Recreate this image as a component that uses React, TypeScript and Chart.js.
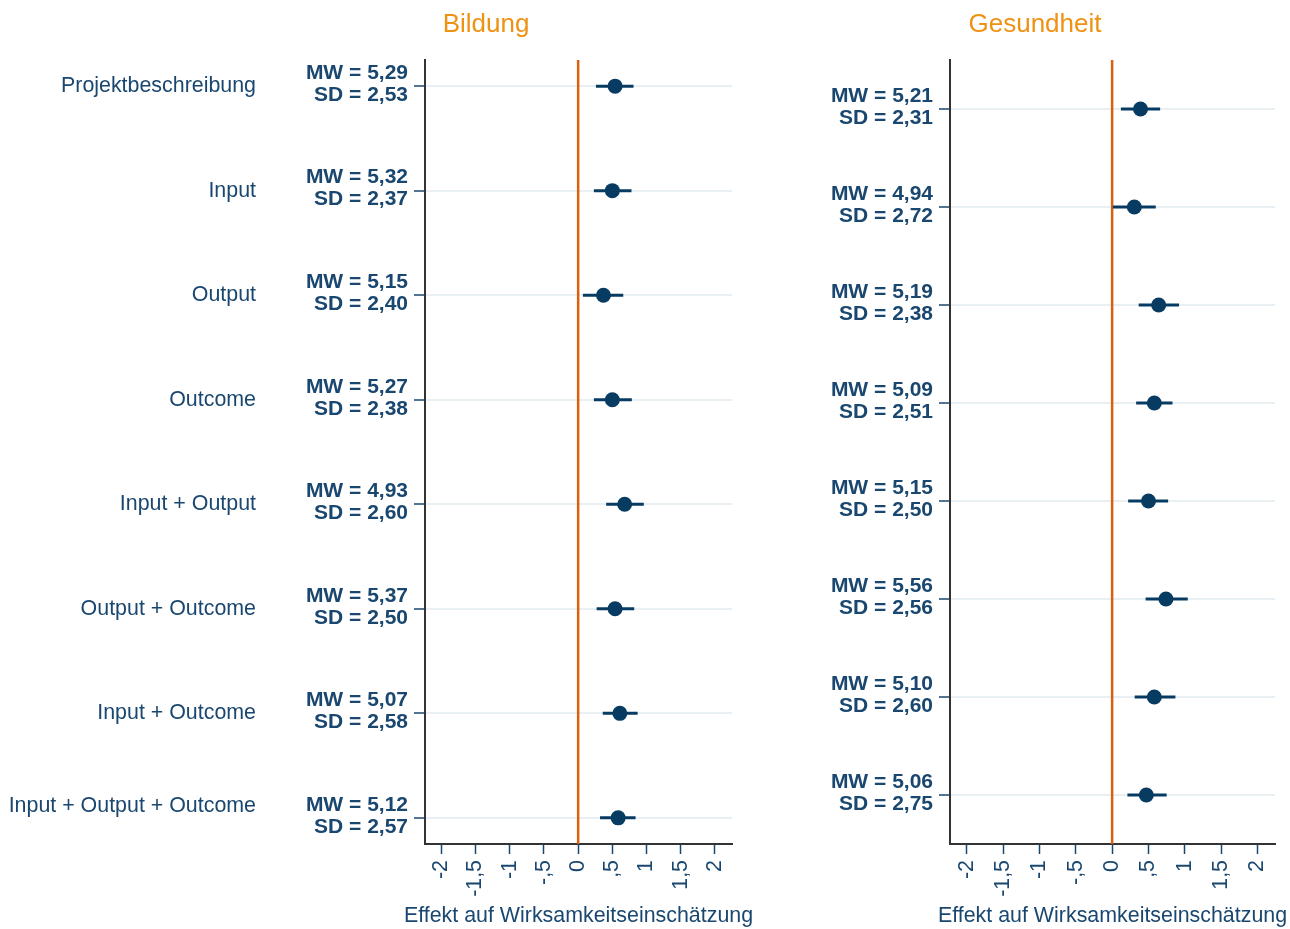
import React, { useEffect, useRef } from "react";
import { Chart, registerables } from "chart.js";

Chart.register(...registerables);

const categories = [
  "Projektbeschreibung",
  "Input",
  "Output",
  "Outcome",
  "Input + Output",
  "Output + Outcome",
  "Input + Outcome",
  "Input + Output + Outcome",
];

const bildungMW = ["5,29", "5,32", "5,15", "5,27", "4,93", "5,37", "5,07", "5,12"];
const bildungSD = ["2,53", "2,37", "2,40", "2,38", "2,60", "2,50", "2,58", "2,57"];
const bildungEst = [0.54, 0.5, 0.37, 0.5, 0.68, 0.54, 0.61, 0.585];
const bildungLo = [0.26, 0.23, 0.07, 0.23, 0.41, 0.27, 0.36, 0.32];
const bildungHi = [0.81, 0.78, 0.66, 0.785, 0.96, 0.82, 0.87, 0.84];

const gesundMW = ["5,21", "4,94", "5,19", "5,09", "5,15", "5,56", "5,10", "5,06"];
const gesundSD = ["2,31", "2,72", "2,38", "2,51", "2,50", "2,56", "2,60", "2,75"];
const gesundEst = [0.39, 0.305, 0.64, 0.58, 0.5, 0.74, 0.58, 0.47];
const gesundLo = [0.12, 0.01, 0.365, 0.33, 0.22, 0.46, 0.31, 0.21];
const gesundHi = [0.66, 0.6, 0.92, 0.83, 0.77, 1.04, 0.87, 0.75];

const xTickValues = [-2, -1.5, -1, -0.5, 0, 0.5, 1, 1.5, 2];
const xTickLabels = ["-2", "-1,5", "-1", "-,5", "0", ",5", "1", "1,5", "2"];
const xAxisTitle = "Effekt auf Wirksamkeitseinschätzung";

const FONT = "'Liberation Sans', Arial, Helvetica, sans-serif";
const NAVY = "#1a476f";
const MARK = "#073b62";
const ORANGE_TITLE = "#ef9112";
const ORANGE_LINE = "#d9600f";
const GRID = "#e8f0f3";
const AXIS = "#333333";
const LAST_LABEL_SHIFT = 0.11;

const panelTextPlugin = {
  id: "panelText",
  afterDraw(chart: any, _args: any, opts: any) {
    const ctx = chart.ctx;
    const ca = chart.chartArea;
    ctx.save();
    ctx.textAlign = "center";
    ctx.textBaseline = "alphabetic";
    ctx.fillStyle = ORANGE_TITLE;
    ctx.font = `26px ${FONT}`;
    ctx.fillText(opts.title, opts.titleX, 31.5);
    ctx.fillStyle = NAVY;
    ctx.font = `21.4px ${FONT}`;
    ctx.fillText(xAxisTitle, (ca.left + ca.right) / 2, 922);
    ctx.restore();
  },
};

type PanelProps = {
  title: string;
  titleX: number;
  mw: string[];
  sd: string[];
  est: number[];
  lo: number[];
  hi: number[];
  showCats: boolean;
  yMin: number;
  yMax: number;
  xMin: number;
  xMax: number;
  left: number;
  width: number;
  statsWidth: number;
  catWidth: number;
  padRight: number;
};

function Panel(p: PanelProps) {
  const ref = useRef<HTMLCanvasElement | null>(null);

  useEffect(() => {
    if (!ref.current) return;
    const rowTicks = (s: any) => {
      s.ticks = categories.map((_, i) => ({ value: i + 1 }));
    };
    const catTicks = (s: any) => {
      s.ticks = categories.map((_, i) => ({
        value: i + 1 - (i === categories.length - 1 ? LAST_LABEL_SHIFT : 0),
      }));
    };
    const points = p.est.map((v, i) => ({ x: v, y: i + 1 }));
    const ci: any[] = [];
    p.est.forEach((_, i) => {
      ci.push({ x: p.lo[i], y: i + 1 }, { x: p.hi[i], y: i + 1 }, { x: null, y: null });
    });
    const zero = [
      { x: 0, y: p.yMin },
      { x: 0, y: p.yMax },
    ];

    const scales: any = {
      x: {
        type: "linear",
        position: "bottom",
        min: p.xMin,
        max: p.xMax,
        afterBuildTicks: (s: any) => {
          s.ticks = xTickValues.map((v) => ({ value: v }));
        },
        ticks: {
          callback: (_v: any, i: number) => xTickLabels[i],
          minRotation: 90,
          maxRotation: 90,
          autoSkip: false,
          padding: 6,
          color: NAVY,
          font: { size: 21.4, family: FONT },
        },
        grid: {
          drawOnChartArea: false,
          tickLength: 10,
          tickColor: NAVY,
          tickWidth: 1.5,
        },
        border: { color: AXIS, width: 2 },
        title: { display: false },
        afterFit: (s: any) => {
          s.height = 85;
        },
      },
      y: {
        type: "linear",
        position: "left",
        weight: 0,
        min: p.yMin,
        max: p.yMax,
        reverse: true,
        afterBuildTicks: rowTicks,
        ticks: {
          callback: (_v: any, i: number) => ["MW = " + p.mw[i], "SD = " + p.sd[i]],
          autoSkip: false,
          padding: 6,
          labelOffset: -2,
          color: NAVY,
          font: { size: 21, weight: "bold", family: FONT, lineHeight: 1.05 },
        },
        grid: {
          color: GRID,
          lineWidth: 2,
          tickLength: 11,
          tickColor: NAVY,
          tickWidth: 1.5,
        },
        border: { color: AXIS, width: 2 },
        afterFit: (s: any) => {
          s.width = p.statsWidth;
        },
      },
    };
    if (p.showCats) {
      scales.yCat = {
        type: "linear",
        position: "left",
        weight: 1,
        min: p.yMin,
        max: p.yMax,
        reverse: true,
        afterBuildTicks: catTicks,
        ticks: {
          callback: (_v: any, i: number) => categories[i],
          autoSkip: false,
          padding: 44,
          color: NAVY,
          font: { size: 21.4, family: FONT },
        },
        grid: { display: false, drawTicks: false },
        border: { display: false },
        afterFit: (s: any) => {
          s.width = p.catWidth;
        },
      };
    }

    const chart = new Chart(ref.current, {
      type: "scatter",
      data: {
        datasets: [
          {
            data: points,
            pointRadius: 7.5,
            pointHoverRadius: 7.5,
            backgroundColor: MARK,
            borderWidth: 0,
            order: 0,
          } as any,
          {
            data: ci,
            showLine: true,
            spanGaps: false,
            pointRadius: 0,
            borderColor: MARK,
            borderWidth: 3,
            order: 1,
          } as any,
          {
            data: zero,
            showLine: true,
            pointRadius: 0,
            borderColor: ORANGE_LINE,
            borderWidth: 2.5,
            order: 2,
          } as any,
        ],
      },
      plugins: [panelTextPlugin as any],
      options: {
        responsive: false,
        animation: false,
        events: [],
        layout: { padding: { left: 0, right: p.padRight, top: 60, bottom: 0 } },
        plugins: {
          legend: { display: false },
          tooltip: { enabled: false },
          title: { display: false },
          panelText: { title: p.title, titleX: p.titleX },
        },
        scales,
      } as any,
    });
    return () => chart.destroy();
  }, []);

  return (
    <canvas
      ref={ref}
      width={p.width}
      height={929}
      style={{ position: "absolute", left: p.left, top: 0, width: p.width, height: 929 }}
    />
  );
}

export default function App() {
  return (
    <div
      style={{
        position: "absolute",
        left: 0,
        top: 0,
        width: 1290,
        height: 929,
        background: "#ffffff",
        overflow: "hidden",
      }}
    >
      <Panel
        title="Bildung"
        titleX={486}
        mw={bildungMW}
        sd={bildungSD}
        est={bildungEst}
        lo={bildungLo}
        hi={bildungHi}
        showCats={true}
        yMin={0.75}
        yMax={8.25}
        xMin={-2.24}
        xMax={2.25}
        left={0}
        width={775}
        statsWidth={125}
        catWidth={300}
        padRight={43}
      />
      <Panel
        title="Gesundheit"
        titleX={255}
        mw={gesundMW}
        sd={gesundSD}
        est={gesundEst}
        lo={gesundLo}
        hi={gesundHi}
        showCats={false}
        yMin={0.5}
        yMax={8.5}
        xMin={-2.23}
        xMax={2.24}
        left={780}
        width={510}
        statsWidth={170}
        catWidth={0}
        padRight={14}
      />
    </div>
  );
}
